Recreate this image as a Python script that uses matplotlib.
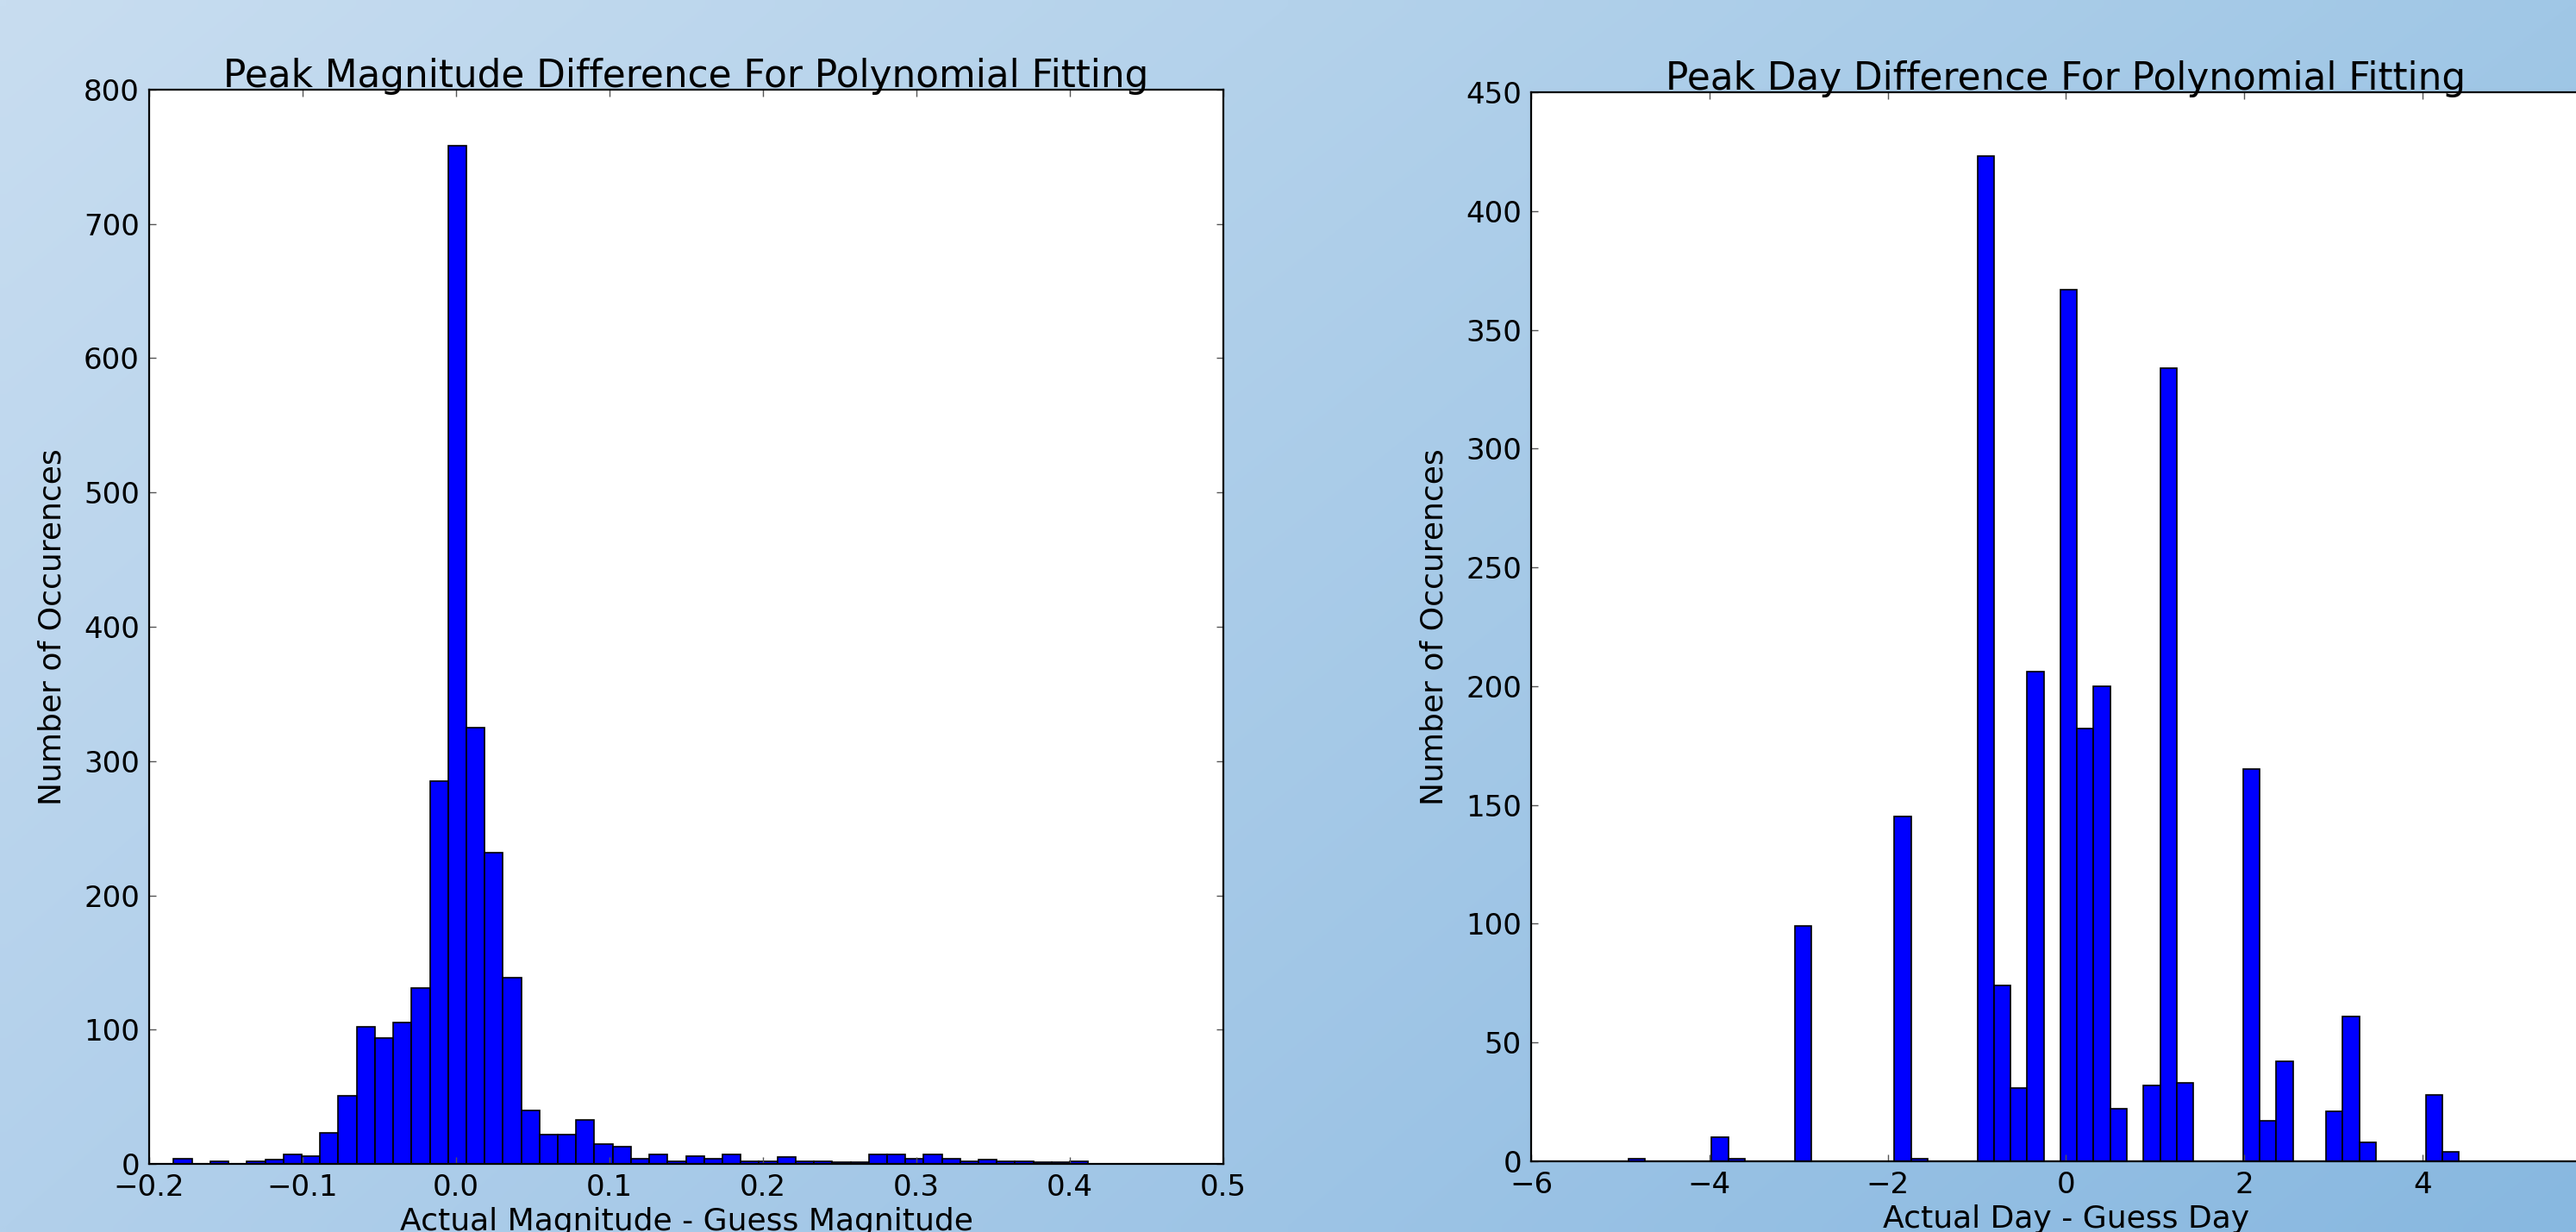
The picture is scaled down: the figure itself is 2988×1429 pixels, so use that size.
import numpy as np
import matplotlib
matplotlib.use("Agg")
import matplotlib.pyplot as plt

# histogram counts (50 bins each)
mag_counts = [4, 0, 2, 0, 2, 3, 7, 6, 23, 51,
              102, 94, 105, 131, 285, 758, 325, 232, 139, 40,
              22, 22, 33, 15, 13, 4, 7, 2, 6, 4,
              7, 2, 2, 5, 2, 2, 1, 1, 7, 7,
              4, 7, 4, 2, 3, 2, 2, 1, 1, 2]
mag_range = (-0.184, 0.412)

day_counts = [1, 0, 0, 0, 0, 10, 1, 0, 0, 0,
              99, 0, 0, 0, 0, 0, 145, 1, 0, 0,
              0, 423, 74, 31, 206, 0, 367, 182, 200, 22,
              0, 32, 334, 33, 0, 0, 0, 165, 17, 42,
              0, 0, 21, 61, 8, 0, 0, 0, 28, 4]
day_range = (-4.907, 4.408)

mag_xticks = [-0.2, -0.1, 0.0, 0.1, 0.2, 0.3, 0.4, 0.5]
mag_xlabels = ["\u22120.2", "\u22120.1", "0.0", "0.1", "0.2", "0.3", "0.4", "0.5"]
mag_yticks = [0, 100, 200, 300, 400, 500, 600, 700, 800]
# the 6 tick falls past the cropped right edge of the picture
day_xticks = [-6, -4, -2, 0, 2, 4]
day_yticks = [0, 50, 100, 150, 200, 250, 300, 350, 400, 450]

W, H = 2988, 1429
fig = plt.figure(figsize=(W / 100, H / 100), dpi=100)

# light blue slide background
bg = fig.add_axes([0, 0, 1, 1], zorder=-10)
tl = np.array([200, 221, 240]) / 255
tr = np.array([160, 199, 230]) / 255
bl = np.array([178, 208, 235]) / 255
br = np.array([136, 184, 224]) / 255
u = np.linspace(0, 1, 200)[None, :, None]
v = np.linspace(0, 1, 100)[:, None, None]
grad = (1 - v) * ((1 - u) * tl + u * tr) + v * ((1 - u) * bl + u * br)
bg.imshow(grad, aspect="auto", extent=[0, 1, 0, 1], interpolation="bilinear")
bg.axis("off")


def hist_panel(ax, counts, rng, title, xlabel, xlim, xticks, yticks, ylim):
    edges = np.linspace(rng[0], rng[1], len(counts) + 1)
    ax.bar(edges[:-1], counts, width=np.diff(edges), align="edge",
           color="#0000ff", edgecolor="black", linewidth=1.2)
    ax.set_xlim(*xlim)
    ax.set_ylim(*ylim)
    ax.set_xticks(xticks)
    ax.set_yticks(yticks)
    ax.set_title(title, fontsize=31.5, pad=2)
    ax.set_xlabel(xlabel, fontsize=26, labelpad=4)
    ax.set_ylabel("Number of Occurences", fontsize=26, labelpad=14)
    ax.tick_params(direction="in", length=6, width=1, color="#555555",
                   labelsize=24.5, top=True, right=True, pad=8)
    ax.set_facecolor("white")
    for s in ax.spines.values():
        s.set_linewidth(1.6)


ax1 = fig.add_axes([173 / W, 1 - 1350 / H, 1246 / W, 1246 / H])
hist_panel(ax1, mag_counts, mag_range,
           "Peak Magnitude Difference For Polynomial Fitting",
           "Actual Magnitude - Guess Magnitude",
           (-0.2, 0.5), mag_xticks, mag_yticks, (0, 800))
ax1.set_xticklabels(mag_xlabels)

ax2 = fig.add_axes([1776 / W, 1 - 1347 / H, 1241 / W, 1240 / H])
hist_panel(ax2, day_counts, day_range,
           "Peak Day Difference For Polynomial Fitting",
           "Actual Day - Guess Day",
           (-6, 6), day_xticks, day_yticks, (0, 450))

fig.savefig("out.png", dpi=100)
